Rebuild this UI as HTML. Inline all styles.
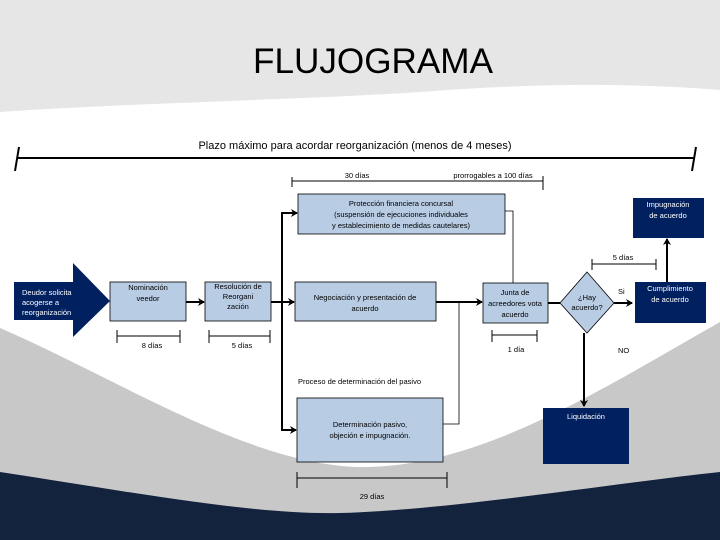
<!DOCTYPE html>
<html><head><meta charset="utf-8"><style>
html,body{margin:0;padding:0;width:720px;height:540px;overflow:hidden;background:#fff}
svg{display:block}
text{font-family:"Liberation Sans",sans-serif;fill:#000}
.s{font-size:7.5px}
.w{fill:#fff}
</style></head><body>
<svg width="720" height="540" viewBox="0 0 720 540" xmlns="http://www.w3.org/2000/svg">
<defs><marker id="a" markerWidth="8" markerHeight="8" refX="6" refY="4" orient="auto" markerUnits="userSpaceOnUse"><path d="M0,0 L7,4 L0,8 L2,4Z" fill="#000"/></marker></defs>
<!-- background -->
<path d="M0,0 H720 V90 C620,82 520,84 420,92 C300,100 150,102 0,112 Z" fill="#e6e6e6"/>
<path d="M0,328 C120,380 250,465 360,467 C480,468 600,390 720,322 V540 H0 Z" fill="#c8c8c8"/>
<path d="M0,472 C120,490 250,515 340,513 C450,510 600,485 720,472 V540 H0 Z" fill="#13223d"/>
<text x="373" y="73" text-anchor="middle" style="font-size:35px" textLength="240" lengthAdjust="spacingAndGlyphs">FLUJOGRAMA</text>
<!-- timeline -->
<text x="355" y="149" text-anchor="middle" style="font-size:11px">Plazo máximo para acordar reorganización (menos de 4 meses)</text>
<line x1="17" y1="158" x2="694" y2="158" stroke="#000" stroke-width="2"/>
<line x1="19" y1="147" x2="15" y2="171" stroke="#000" stroke-width="2"/>
<line x1="696" y1="147" x2="692" y2="171" stroke="#000" stroke-width="2"/>
<line x1="292" y1="181" x2="543" y2="181" stroke="#000"/>
<line x1="292" y1="177" x2="292" y2="187" stroke="#000"/>
<line x1="543" y1="176" x2="543" y2="190" stroke="#000"/>
<text x="357" y="178" class="s" text-anchor="middle">30 días</text>
<text x="493" y="178" class="s" text-anchor="middle">prorrogables a 100 días</text>
<!-- boxes -->
<rect x="298" y="194" width="207" height="40" fill="#b8cce4" stroke="#000" stroke-width="0.8"/>
<text x="401" y="206" class="s" text-anchor="middle">Protección financiera concursal</text>
<text x="401" y="217" class="s" text-anchor="middle">(suspensión de ejecuciones individuales</text>
<text x="401" y="228" class="s" text-anchor="middle">y establecimiento de medidas cautelares)</text>
<rect x="633" y="198" width="71" height="40" fill="#002060"/>
<text x="668" y="207" class="s w" text-anchor="middle">Impugnación</text>
<text x="668" y="218" class="s w" text-anchor="middle">de acuerdo</text>
<polyline points="505,211 513,211 513,283" fill="none" stroke="#000" stroke-width="0.8"/>
<!-- deudor arrow -->
<path d="M14,282 H73 V263 L110,301 L73,337 V320 H14 Z" fill="#002060"/>
<text x="22" y="295" class="s w">Deudor solicita</text>
<text x="22" y="305" class="s w">acogerse a</text>
<text x="22" y="315" class="s w">reorganización</text>
<rect x="110" y="282" width="76" height="39" fill="#b8cce4" stroke="#000" stroke-width="0.8"/>
<text x="148" y="290" class="s" text-anchor="middle">Nominación</text>
<text x="148" y="301" class="s" text-anchor="middle">veedor</text>
<line x1="186" y1="302" x2="204" y2="302" stroke="#000" stroke-width="2" marker-end="url(#a)"/>
<rect x="205" y="282" width="66" height="39" fill="#b8cce4" stroke="#000" stroke-width="0.8"/>
<text x="238" y="289" class="s" text-anchor="middle">Resolución de</text>
<text x="238" y="299" class="s" text-anchor="middle">Reorgani</text>
<text x="238" y="309" class="s" text-anchor="middle">zación</text>
<line x1="271" y1="302" x2="294" y2="302" stroke="#000" stroke-width="2" marker-end="url(#a)"/>
<line x1="282" y1="213" x2="282" y2="431" stroke="#000" stroke-width="2"/>
<line x1="281" y1="213" x2="297" y2="213" stroke="#000" stroke-width="2" marker-end="url(#a)"/>
<line x1="281" y1="430" x2="296" y2="430" stroke="#000" stroke-width="2" marker-end="url(#a)"/>
<rect x="295" y="282" width="141" height="39" fill="#b8cce4" stroke="#000" stroke-width="0.8"/>
<text x="365" y="300" class="s" text-anchor="middle">Negociación y presentación de</text>
<text x="365" y="311" class="s" text-anchor="middle">acuerdo</text>
<line x1="436" y1="302" x2="482" y2="302" stroke="#000" stroke-width="2" marker-end="url(#a)"/>
<polyline points="459,302 459,424 443,424" fill="none" stroke="#000" stroke-width="0.8"/>
<rect x="483" y="283" width="65" height="40" fill="#b8cce4" stroke="#000" stroke-width="0.8"/>
<text x="515" y="295" class="s" text-anchor="middle">Junta de</text>
<text x="515" y="306" class="s" text-anchor="middle">acreedores vota</text>
<text x="515" y="317" class="s" text-anchor="middle">acuerdo</text>
<line x1="548" y1="303" x2="560" y2="303" stroke="#000" stroke-width="2"/>
<path d="M587,272 L614,303 L587,333 L560,303 Z" fill="#b8cce4" stroke="#000" stroke-width="0.8"/>
<text x="587" y="300" class="s" text-anchor="middle">¿Hay</text>
<text x="587" y="310" class="s" text-anchor="middle">acuerdo?</text>
<line x1="614" y1="303" x2="632" y2="303" stroke="#000" stroke-width="2" marker-end="url(#a)"/>
<text x="618" y="294" class="s">Si</text>
<rect x="635" y="282" width="71" height="41" fill="#002060"/>
<text x="670" y="291" class="s w" text-anchor="middle">Cumplimiento</text>
<text x="670" y="302" class="s w" text-anchor="middle">de acuerdo</text>
<line x1="667" y1="282" x2="667" y2="239" stroke="#000" stroke-width="2" marker-end="url(#a)"/>
<line x1="592" y1="264" x2="656" y2="264" stroke="#000"/>
<line x1="592" y1="259" x2="592" y2="270" stroke="#000"/>
<line x1="656" y1="259" x2="656" y2="270" stroke="#000"/>
<text x="623" y="260" class="s" text-anchor="middle">5 días</text>
<text x="618" y="353" class="s">NO</text>
<line x1="584" y1="333" x2="584" y2="406" stroke="#000" stroke-width="2" marker-end="url(#a)"/>
<rect x="543" y="408" width="86" height="56" fill="#002060"/>
<text x="586" y="419" class="s w" text-anchor="middle">Liquidación</text>
<!-- brackets -->
<g stroke="#000"><line x1="117" y1="336" x2="180" y2="336"/><line x1="117" y1="330" x2="117" y2="343"/><line x1="180" y1="330" x2="180" y2="343"/>
<line x1="209" y1="336" x2="270" y2="336"/><line x1="209" y1="330" x2="209" y2="343"/><line x1="270" y1="330" x2="270" y2="343"/>
<line x1="492" y1="335" x2="537" y2="335"/><line x1="492" y1="330" x2="492" y2="342"/><line x1="537" y1="330" x2="537" y2="342"/>
<line x1="297" y1="478" x2="447" y2="478"/><line x1="297" y1="472" x2="297" y2="488"/><line x1="447" y1="472" x2="447" y2="488"/></g>
<text x="152" y="348" class="s" text-anchor="middle">8 días</text>
<text x="242" y="348" class="s" text-anchor="middle">5 días</text>
<text x="516" y="352" class="s" text-anchor="middle">1 día</text>
<text x="298" y="384" class="s">Proceso de determinación del pasivo</text>
<rect x="297" y="398" width="146" height="64" fill="#b8cce4" stroke="#000" stroke-width="0.8"/>
<text x="370" y="427" class="s" text-anchor="middle">Determinación pasivo,</text>
<text x="370" y="438" class="s" text-anchor="middle">objeción e impugnación.</text>
<text x="372" y="499" class="s" text-anchor="middle">29 días</text>
</svg>
</body></html>
